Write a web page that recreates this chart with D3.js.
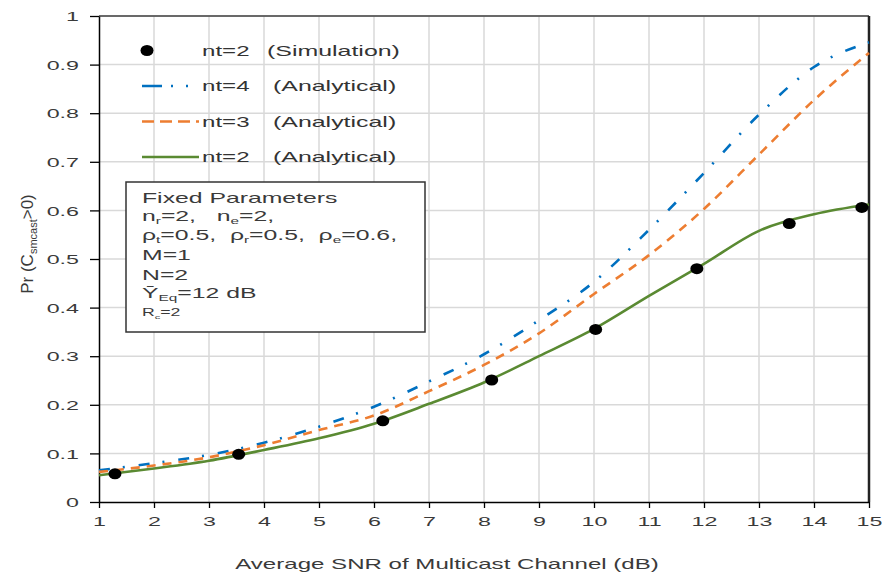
<!DOCTYPE html>
<html>
<head>
<meta charset="utf-8">
<script src="https://cdn.jsdelivr.net/npm/d3@7"></script>
<style>
  body { margin: 0; background: #fff; }
  text { font-family: "Liberation Sans", Arial, sans-serif; }
</style>
</head>
<body>
<svg id="chart" width="885" height="578"></svg>
<script>
// values
const snr = [1, 2, 3, 4, 5, 6, 7, 8, 9, 10, 11, 12, 13, 14, 15];
const nt4 = [0.065, 0.08, 0.097, 0.122, 0.155, 0.196, 0.248, 0.304, 0.374, 0.453, 0.56, 0.677, 0.797, 0.895, 0.946];
const nt3 = [0.062, 0.075, 0.092, 0.117, 0.148, 0.178, 0.228, 0.282, 0.347, 0.428, 0.508, 0.603, 0.715, 0.827, 0.924];
const nt2 = [0.055, 0.069, 0.085, 0.107, 0.131, 0.161, 0.202, 0.246, 0.3, 0.356, 0.424, 0.49, 0.558, 0.592, 0.612];
const simSnr = [1.29, 3.54, 6.16, 8.14, 10.03, 11.87, 13.55, 14.87];
const simPr = [0.058, 0.098, 0.167, 0.251, 0.355, 0.48, 0.573, 0.606];
const xTicks = [1, 2, 3, 4, 5, 6, 7, 8, 9, 10, 11, 12, 13, 14, 15];
const yTicks = [0, 0.1, 0.2, 0.3, 0.4, 0.5, 0.6, 0.7, 0.8, 0.9, 1];

const svg = d3.select('#chart'),
  margin = {top: 16, right: 16, bottom: 76, left: 99},
  width = +svg.attr('width') - margin.left - margin.right,
  height = +svg.attr('height') - margin.top - margin.bottom;

const SX = 1.72; // text in the picture is drawn wide

const x = d3.scaleLinear().domain([1, 15]).range([0, width]),
  y = d3.scaleLinear().domain([0, 1]).range([height, 0]);

const g = svg.append('g')
  .attr('transform', 'translate(' + margin.left + ',' + margin.top + ')');

// grid
g.append('g').selectAll('line').data(xTicks.slice(1)).enter().append('line')
  .attr('x1', d => x(d)).attr('x2', d => x(d))
  .attr('y1', 0).attr('y2', height)
  .attr('stroke', '#d9d9d9').attr('stroke-width', 1.5);
g.append('g').selectAll('line').data(yTicks.slice(1)).enter().append('line')
  .attr('x1', 0).attr('x2', width)
  .attr('y1', d => y(d)).attr('y2', d => y(d))
  .attr('stroke', '#d9d9d9').attr('stroke-width', 1.5);

// frame top / right
g.append('line').attr('x1', 0).attr('x2', width).attr('y1', 0).attr('y2', 0)
  .attr('stroke', '#404040').attr('stroke-width', 1.5);
g.append('line').attr('x1', width).attr('x2', width).attr('y1', 0).attr('y2', height)
  .attr('stroke', '#222').attr('stroke-width', 2.5);

// axes
const xAxis = g.append('g')
  .attr('transform', 'translate(0,' + height + ')')
  .call(d3.axisBottom(x).tickValues(xTicks).tickSize(6).tickSizeOuter(0).tickFormat(d3.format('d')));
xAxis.selectAll('text')
  .attr('y', null).attr('dy', null)
  .attr('transform', 'translate(0,24) scale(' + SX + ',1)')
  .attr('font-size', 13.5).attr('fill', '#3a3a3a');

const yAxis = g.append('g')
  .call(d3.axisLeft(y).tickValues(yTicks).tickSize(9).tickSizeOuter(0)
    .tickFormat(d => d === 0 ? '0' : d === 1 ? '1' : d.toFixed(1)));
yAxis.selectAll('text')
  .attr('x', null).attr('dy', '0.35em')
  .attr('transform', 'translate(-20,0) scale(' + SX + ',1)')
  .attr('font-size', 13.5).attr('fill', '#3a3a3a');
g.selectAll('.domain').attr('stroke', '#000').attr('stroke-width', 1.5);
g.selectAll('.tick line').attr('stroke', '#000').attr('stroke-width', 1.3);

// axis titles
svg.append('text')
  .attr('transform', 'translate(447,569) scale(' + SX + ',1)')
  .attr('text-anchor', 'middle').attr('font-size', 14).attr('fill', '#3a3a3a')
  .text('Average SNR of Multicast Channel (dB)');

const yl = svg.append('text')
  .attr('transform', 'translate(33,244) rotate(-90)')
  .attr('text-anchor', 'middle').attr('font-size', 17).attr('fill', '#3a3a3a');
yl.append('tspan').text('Pr (C');
yl.append('tspan').attr('font-size', 11).attr('dy', 4).text('smcast');
yl.append('tspan').attr('dy', -4).text('>0)');

// curves
const series = [
  {vals: nt4, color: '#0070c0', dash: '11,13,2,14'},
  {vals: nt3, color: '#ed7d31', dash: '9,7'},
  {vals: nt2, color: '#5a8a32', dash: null}
];
const line = d3.line()
  .x(d => x(d[0]))
  .y(d => y(d[1]))
  .curve(d3.curveMonotoneX);

series.forEach(function (s) {
  g.append('path')
    .datum(snr.map((v, i) => [v, s.vals[i]]))
    .attr('fill', 'none')
    .attr('stroke', s.color)
    .attr('stroke-width', 2.6)
    .attr('stroke-dasharray', s.dash)
    .attr('d', line);
});

g.selectAll('.sim')
  .data(simSnr.map((v, i) => [v, simPr[i]]))
  .enter().append('ellipse')
  .attr('class', 'sim')
  .attr('cx', d => x(d[0]))
  .attr('cy', d => y(d[1]))
  .attr('rx', 6.5).attr('ry', 5.5)
  .attr('fill', '#000');

// legend
const legend = [
  {label: 'nt=2', note: '(Simulation)', noteX: 267, color: '#000', dash: null, dot: true},
  {label: 'nt=4', note: '(Analytical)', noteX: 273, color: '#0070c0', dash: '20,9,2,13,2'},
  {label: 'nt=3', note: '(Analytical)', noteX: 273, color: '#ed7d31', dash: '12,6'},
  {label: 'nt=2', note: '(Analytical)', noteX: 273, color: '#5a8a32', dash: null}
];
const ly = d3.scalePoint().domain(d3.range(legend.length)).range([50.5, 157]);
const lg = svg.append('g');
legend.forEach(function (d, i) {
  if (d.dot) {
    lg.append('ellipse').attr('cx', 147).attr('cy', ly(i)).attr('rx', 6.5).attr('ry', 5.5).attr('fill', '#000');
  } else {
    lg.append('line').attr('x1', 142).attr('x2', 199).attr('y1', ly(i)).attr('y2', ly(i))
      .attr('stroke', d.color).attr('stroke-width', 2.6).attr('stroke-dasharray', d.dash);
  }
  lg.append('text')
    .attr('transform', 'translate(202,' + (ly(i) + 5) + ') scale(' + SX + ',1)')
    .attr('font-size', 14).attr('fill', '#333').text(d.label);
  lg.append('text')
    .attr('transform', 'translate(' + d.noteX + ',' + (ly(i) + 5) + ') scale(' + 1.78 + ',1)')
    .attr('font-size', 14).attr('fill', '#333').text(d.note);
});

// fixed parameters box
const box = svg.append('g');
box.append('rect')
  .attr('x', 126).attr('y', 182).attr('width', 299).attr('height', 150)
  .attr('fill', '#fff').attr('stroke', '#333').attr('stroke-width', 1.5);

const BX = 1.77;
const params = [
  {y: 203, parts: [['Fixed Parameters']]},
  {y: 221, parts: [['n'], ['r', 'sub'], ['=2,   n'], ['e', 'sub'], ['=2,']]},
  {y: 240, parts: [['\u03c1'], ['t', 'sub'], ['=0.5,  \u03c1'], ['r', 'sub'], ['=0.5,  \u03c1'], ['e', 'sub'], ['=0.6,']]},
  {y: 260, parts: [['M=1']]},
  {y: 280, parts: [['N=2']]},
  {y: 298, parts: [['\u0232'], ['Eq', 'sub'], ['=12 dB']]},
  {y: 316, size: 10, parts: [['R'], ['c', 'sub'], ['=2']]}
];
params.forEach(function (p) {
  const fs = p.size || 14;
  const t = box.append('text')
    .attr('transform', 'translate(142,' + p.y + ') scale(' + BX + ',1)')
    .attr('font-size', fs).attr('fill', '#3a3a3a')
    .attr('xml:space', 'preserve');
  let low = false;
  p.parts.forEach(function (q) {
    const sub = q[1] === 'sub';
    const ts = t.append('tspan').text(q[0]);
    if (sub) {
      ts.attr('font-size', fs * 0.62).attr('dy', low ? 0 : 3);
      low = true;
    } else if (low) {
      ts.attr('dy', -3);
      low = false;
    }
  });
});
</script>
</body>
</html>
